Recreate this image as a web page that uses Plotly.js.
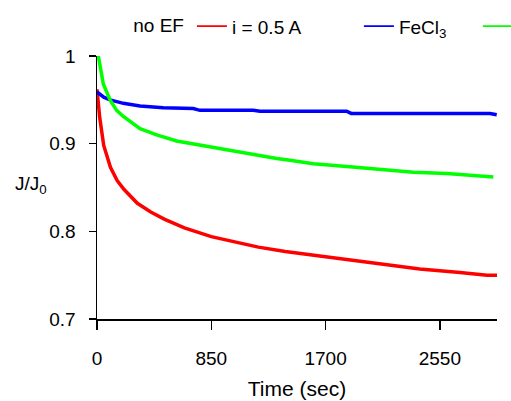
<!DOCTYPE html>
<html>
<head>
<meta charset="utf-8">
<script src="https://cdn.plot.ly/plotly-3.0.1.min.js"></script>
<style>html,body{margin:0;padding:0;background:#fff;}#chart{width:511px;height:401px;}</style>
</head>
<body>
<div id="chart"></div>
<script>
// Series: no EF (red)
const redTime = [0, 20, 50, 100, 150, 200, 300, 400, 500, 650, 850, 1000, 1200, 1400, 1700, 1900, 2200, 2400, 2700, 2900, 2975];
const redVal  = [0.962, 0.930, 0.898, 0.873, 0.858, 0.848, 0.832, 0.822, 0.814, 0.804, 0.794, 0.789, 0.782, 0.777, 0.771, 0.766, 0.760, 0.757, 0.753, 0.750, 0.750];
// Series: i = 0.5 A (blue)
const blueTime = [0, 50, 97, 196, 320, 493, 716, 766, 1162, 1212, 1435, 1857, 1890, 2923, 2973];
const blueVal  = [0.959, 0.953, 0.950, 0.946, 0.943, 0.941, 0.940, 0.938, 0.938, 0.937, 0.937, 0.937, 0.9345, 0.9345, 0.933];
// Series: FeCl3 (green)
const greenTime = [0, 10, 47, 97, 146, 196, 320, 444, 592, 741, 940, 1138, 1337, 1435, 1609, 1857, 2105, 2353, 2601, 2849, 2948];
const greenVal  = [1.0, 1.0, 0.968, 0.950, 0.938, 0.931, 0.917, 0.910, 0.903, 0.899, 0.893, 0.888, 0.883, 0.881, 0.877, 0.874, 0.871, 0.8675, 0.866, 0.8635, 0.862];

// Legend labels as they read in the reference (label text precedes each swatch)
const legendTitle = "no EF";
const legendLabels = ["i = 0.5 A", "FeCl<sub>3</sub>", ""];
const legendColors = ["#ff0000", "#0000ff", "#00ff00"];
const xTicks = [0, 850, 1700, 2550];
const yTicks = [0.7, 0.8, 0.9, 1];
const yTickText = ["0.7", "0.8", "0.9", "1"];

const FONT = "Liberation Sans, Arial, sans-serif";
const sp = n => "\u00a0".repeat(n);
const labelPad = [10, 5, 0];

const dataTraces = [
  {x: redTime, y: redVal, showlegend: false, mode: "lines", line: {color: legendColors[0], width: 3.5}},
  {x: blueTime, y: blueVal, showlegend: false, mode: "lines", line: {color: legendColors[1], width: 3.5}},
  {x: greenTime, y: greenVal, showlegend: false, mode: "lines", line: {color: legendColors[2], width: 3.5}}
];
// legend-only entries (no data) with thin swatches like the reference
const legendTraces = legendLabels.map((lab, i) => ({
  x: [null], y: [null], mode: "lines", name: lab + sp(labelPad[i]),
  line: {color: legendColors[i], width: 1.8}, hoverinfo: "skip"
}));

const layout = {
  width: 511, height: 401,
  margin: {l: 97, r: 14, t: 56, b: 82, autoexpand: false},
  paper_bgcolor: "#fff", plot_bgcolor: "#fff",
  font: {family: FONT, size: 19, color: "#000"},
  showlegend: true,
  legend: {
    orientation: "h", x: -0.02, xanchor: "left", y: 1.185, yanchor: "top",
    title: {text: sp(8) + legendTitle, side: "left", font: {family: FONT, size: 19, color: "#000"}},
    font: {family: FONT, size: 19, color: "#000"},
    bgcolor: "rgba(0,0,0,0)"
  },
  xaxis: {
    range: [0, 2975], tickvals: xTicks, ticktext: xTicks.map(String),
    showline: true, linecolor: "#000", linewidth: 1.5, showgrid: false, zeroline: false,
    ticks: "outside", ticklen: 9, tickwidth: 1.5, tickcolor: "#000",
    ticklabelstandoff: 13,
    tickfont: {family: FONT, size: 19, color: "#000"},
    title: {text: "Time (sec)", font: {family: FONT, size: 21, color: "#000"}, standoff: 13}
  },
  yaxis: {
    range: [0.7, 1.0], tickvals: yTicks, ticktext: yTickText,
    showline: true, linecolor: "#000", linewidth: 1.5, showgrid: false, zeroline: false,
    ticks: "outside", ticklen: 7, tickwidth: 1.5, tickcolor: "#000",
    ticklabelstandoff: 9,
    tickfont: {family: FONT, size: 19, color: "#000"}
  },
  annotations: [{
    text: "J/J<sub>0</sub>", xref: "paper", yref: "paper", x: -0.12, y: 0.51,
    xanchor: "right", yanchor: "middle", showarrow: false,
    font: {family: FONT, size: 19, color: "#000"}
  }]
};

Plotly.newPlot("chart", dataTraces.concat(legendTraces), layout, {displayModeBar: false, staticPlot: true});
</script>
</body>
</html>
